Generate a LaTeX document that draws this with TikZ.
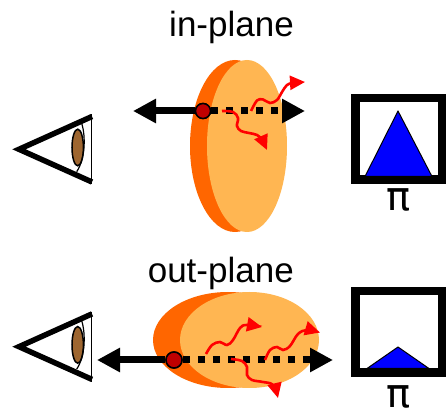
\documentclass[tikz,border=0pt]{standalone}
\usepackage{fontspec}
\setmainfont{Liberation Sans}
\newfontfamily\greekfont{DejaVu Sans}
\usetikzlibrary{arrows.meta,shapes.geometric}

\definecolor{lensrim}{RGB}{255,102,0}
\definecolor{lensface}{RGB}{255,182,82}
\definecolor{iris}{RGB}{158,102,48}
\definecolor{dotred}{RGB}{192,0,0}
\definecolor{photon}{RGB}{255,0,0}
\definecolor{imgblue}{RGB}{0,0,255}

\tikzset{
  rim/.style={ellipse, fill=lensrim, inner sep=0pt},
  face/.style={ellipse, fill=lensface, inner sep=0pt},
  beam/.style={line width=7pt, -{Triangle[length=23pt,width=23pt]}},
  hiddenbeam/.style={beam, dash pattern=on 7pt off 8pt},
  source/.style={circle, fill=dotred, draw=black, line width=1.5pt, inner sep=0pt},
  wave/.style={draw=photon, line width=2.6pt, -{Triangle[length=15pt,width=14pt,fill=photon]}},
  screenbox/.style={draw, fill=white, line width=8.5pt, minimum width=86.5pt,
    minimum height=81.5pt, inner sep=0pt},
  imagetri/.style={fill=imgblue, draw=black, line width=1pt, line join=round},
  caption/.style={font=\fontsize{35}{40}\selectfont, anchor=base, inner sep=0pt},
  pisym/.style={font=\greekfont\fontsize{40}{44}\selectfont, anchor=base, inner sep=0pt},
  eyelens/.style={ellipse, fill=iris, draw=black, line width=1.5pt, inner sep=0pt,
    minimum width=11.4pt, minimum height=36.6pt},
  pics/eye/.style={code={
    \draw[line width=5.5pt, line join=miter] (73,-32.8) -- (0,0) -- (73,32.7);
    \draw[line width=1.2pt] (72.7,-35) -- (72.7,35);
    \node[eyelens] (-lens) at (58.7,-1.8) {};
    \draw[line width=1.2pt] (62.7,-26) .. controls (67,-12) and (66,10) .. (57.7,22.4);
  }},
}

\begin{document}
\begin{tikzpicture}[x=1pt,y=-1pt]
\useasboundingbox (0,0) rectangle (448,417);

% ---------- in-plane ----------
\node[caption] (capA) at (231.5,37) {in-plane};

\pic (eyeA) at (19,149.3) {eye};

\node[rim, minimum width=90pt, minimum height=172pt] (rimA) at (235,146) {};
\node[face, minimum width=80pt, minimum height=172pt] (faceA) at (247,146) {};

\node[source, minimum size=15pt] (srcA) at (203,111) {};
\coordinate (backA) at (133,111);
\coordinate (frontA) at (305,111);
\draw[beam] (srcA) -- (backA);
\draw[hiddenbeam] (srcA) -- (frontA);
\node[source, minimum size=15pt] at (srcA) {};

\draw[wave] plot[smooth, tension=0.6] coordinates
  {(251,111) (257,100.5) (263,99.5) (270,103) (277,100) (282,92) (287,85) (293,83) (305,82)};
\draw[wave] plot[smooth, tension=0.6] coordinates
  {(222,111) (233,112) (238,118) (237,126) (241,131) (249,133) (257,135) (262,140) (267,150)};

\node[screenbox] (scrA) at (398.5,139) {};
\draw[imagetri] (365,176.5) -- (398,111) -- (432,176.5) -- cycle;
\node[pisym] (piA) at (398.5,211) {π};

% ---------- out-plane ----------
\node[caption] (capB) at (220.8,283) {out-plane};

\pic (eyeB) at (19,346.7) {eye};

\node[rim, minimum width=150pt, minimum height=96pt] (rimB) at (228,340) {};
\node[face, minimum width=139pt, minimum height=96pt] (faceB) at (249.5,340) {};

\node[source, minimum size=16pt] (srcB) at (174,360) {};
\coordinate (backB) at (97,360);
\coordinate (frontB) at (333,360);
\draw[beam] (srcB) -- (backB);
\draw[hiddenbeam] (srcB) -- (frontB);
\node[source, minimum size=16pt] at (srcB) {};

\draw[wave] plot[smooth, tension=0.6] coordinates
  {(206,354) (212,345) (220,342) (227,345) (233,340) (240,328) (246.5,325) (262,327)};
\draw[wave] plot[smooth, tension=0.6] coordinates
  {(265,360) (270,350) (277,347) (283,350) (290,346) (298,334) (307,330) (320,332.5)};
\draw[wave] plot[smooth, tension=0.6] coordinates
  {(231,359) (242,361) (247,367) (247,375) (252,380) (263,382) (273,385) (278,398)};

\node[screenbox] (scrB) at (398.5,332) {};
\draw[imagetri] (367,368.5) -- (398,347) -- (429,368.5) -- cycle;
\node[pisym] (piB) at (398.5,407) {π};
\end{tikzpicture}
\end{document}
